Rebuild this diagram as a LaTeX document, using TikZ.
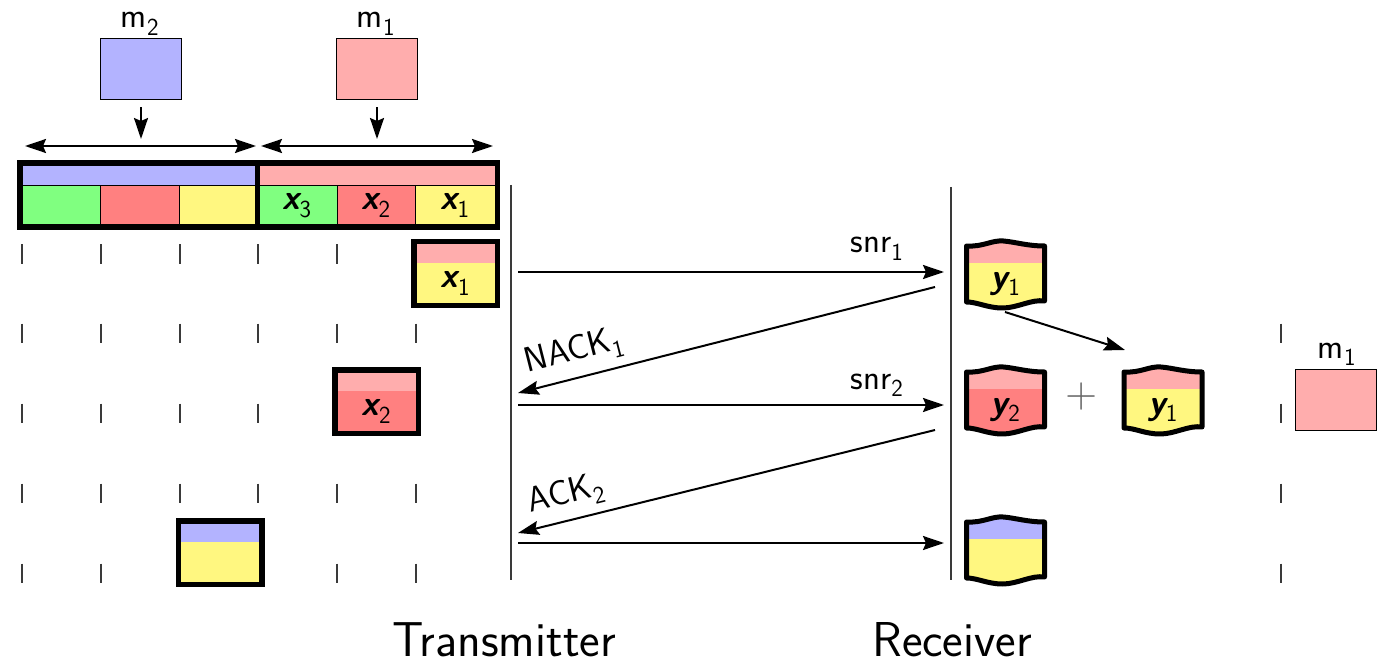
\documentclass[tikz,border=0pt]{standalone}
\usepackage{fontspec}
\usetikzlibrary{arrows.meta}
\definecolor{cblue}{HTML}{B3B3FF}
\definecolor{cpink}{HTML}{FFADAD}
\definecolor{cred}{HTML}{FF8080}
\definecolor{cyel}{HTML}{FFF780}
\definecolor{cgreen}{HTML}{80FF80}
\definecolor{cdark}{HTML}{3A3A3A}
\newcommand\xv[1]{{\bfseries\itshape x}\textsubscript{#1}}
\newcommand\yv[1]{{\bfseries\itshape y}\textsubscript{#1}}
\tikzset{
  lbl/.style={font=\sffamily\fontsize{35}{42}\selectfont, inner sep=0pt},
  big/.style={font=\sffamily\fontsize{49}{58}\selectfont, inner sep=0pt},
  arr/.style={line width=2pt, -{Stealth[length=21pt,width=14pt,inset=3pt]}},
  darr/.style={line width=2pt, {Stealth[length=21pt,width=14pt,inset=3pt]}-{Stealth[length=21pt,width=14pt,inset=3pt]}},
  tick/.style={line width=2pt, cdark},
  life/.style={line width=2pt, cdark},
  msg/.style={draw=black, line width=1.2pt, minimum width=81pt, minimum height=61pt, inner sep=0pt},
  cell/.style={draw=black, line width=1pt, minimum height=39pt, inner sep=0pt, lbl},
  strip/.style={minimum height=20pt, inner sep=0pt},
  wavyp/.style={insert path={(-39,28) .. controls (-22,27) and (-14,34) .. (-2,33) .. controls (10,32) and (22,28) .. (39,28) -- (39,-27) .. controls (26,-25) and (12,-34) .. (-3,-34) .. controls (-18,-34) and (-28,-28) .. (-39,-28) -- cycle}},
  pics/txbox/.style n args={3}{code={
    \fill[#2] (-42,-32) rectangle (42,32);
    \fill[#1] (-42,10.5) rectangle (42,32);
    \draw[line width=5.5pt] (-41.75,-31.75) rectangle (41.75,31.75);
    \node[lbl] (-c) at (0,-10) {#3};
  }},
  pics/rxbox/.style n args={3}{code={
    \begin{scope}
      \clip[wavyp];
      \fill[#2] (-45,-40) rectangle (45,40);
      \fill[#1] (-45,11) rectangle (45,40);
    \end{scope}
    \draw[line width=5pt, line join=round, wavyp];
    \node[lbl] (-c) at (0,-10) {#3};
  }},
}
\begin{document}
\begin{tikzpicture}[x=1pt,y=1pt]
\useasboundingbox (0,0) rectangle (1379,-663);

% input messages
\node[msg, fill=cblue] (m2) at (141,-69) {};
\node[msg, fill=cpink] (m1) at (377,-69) {};
\node[lbl, anchor=base] (m2l) at (140,-28) {m\textsubscript{2}};
\node[lbl, anchor=base] (m1l) at (376,-28) {m\textsubscript{1}};
\coordinate (m2t) at (141,-139);
\coordinate (m1t) at (377,-139);
\draw[arr, shorten <=7pt] (m2) -- (m2t);
\draw[arr, shorten <=7pt] (m1) -- (m1t);

% double arrows
\coordinate (dl1) at (25,-146);
\coordinate (dl2) at (256,-146);
\coordinate (dr1) at (261,-146);
\coordinate (dr2) at (493,-146);
\draw[darr] (dl1) -- (dl2);
\draw[darr] (dr1) -- (dr2);

% codeword frame
\node[strip, fill=cblue, minimum width=235pt] (s2) at (139.75,-176) {};
\node[strip, fill=cpink, minimum width=238pt] (s1) at (376,-176) {};
\node[cell, fill=cgreen, minimum width=77.5pt] (c1) at (61.25,-205.5) {};
\node[cell, fill=cred, minimum width=79pt] (c2) at (139.5,-205.5) {};
\node[cell, fill=cyel, minimum width=78pt] (c3) at (218,-205.5) {};
\node[cell, fill=cgreen, minimum width=80pt] (c4) at (297,-205.5) {\xv{3}};
\node[cell, fill=cred, minimum width=78pt] (c5) at (376,-205.5) {\xv{2}};
\node[cell, fill=cyel, minimum width=80pt] (c6) at (455,-205.5) {\xv{1}};
\draw[line width=5.5pt] (20,-163) rectangle (497.5,-227.5);
\draw[line width=5pt] (257,-163) -- (257,-227.5);

% ticks
\foreach \yy/\xs in {254/{22,101,180,258,337}, 333/{22,101,180,258,337,416}, 413/{22,101,180,258}, 493/{22,101,180,258,337,416}, 573/{22,101,337,416}} {
  \foreach \xx in \xs {\draw[tick] (\xx,-\yy+9.5) -- (\xx,-\yy-9.5);}
}
\foreach \yy in {333,413,493,573} {\draw[tick] (1281,-\yy+9.5) -- (1281,-\yy-9.5);}

% transmitted blocks
\pic (tx1) at (455.5,-273.5) {txbox={cpink}{cyel}{\xv{1}}};
\pic (tx2) at (376.5,-401.5) {txbox={cpink}{cred}{\xv{2}}};
\pic (tx3) at (220,-552.5) {txbox={cblue}{cyel}{}};

% life lines
\coordinate (tl0) at (511,-185);
\coordinate (tl1) at (511,-580);
\coordinate (rl0) at (951,-187);
\coordinate (rl1) at (951,-580);
\draw[life] (tl0) -- (tl1);
\draw[life] (rl0) -- (rl1);

% messages
\coordinate (a1s) at (518,-272);
\coordinate (a1e) at (944,-272);
\draw[arr] (a1s) -- (a1e);
\node[lbl, anchor=base] (snr1) at (877,-253) {snr\textsubscript{1}};

\coordinate (n1s) at (935,-287);
\coordinate (n1e) at (518,-393);
\draw[arr] (n1s) -- node[lbl, sloped, above=9pt, pos=0.85] (nack1) {NACK\textsubscript{1}} (n1e);

\coordinate (a2s) at (518,-405);
\coordinate (a2e) at (944,-405);
\draw[arr] (a2s) -- (a2e);
\node[lbl, anchor=base] (snr2) at (877,-389) {snr\textsubscript{2}};

\coordinate (k2s) at (935,-430);
\coordinate (k2e) at (518,-533);
\draw[arr] (k2s) -- node[lbl, sloped, above=8pt, pos=0.87] (ack2) {ACK\textsubscript{2}} (k2e);

\coordinate (a3s) at (518,-543);
\coordinate (a3e) at (944,-543);
\draw[arr] (a3s) -- (a3e);

% received blocks
\pic (ry1) at (1005.5,-274) {rxbox={cpink}{cyel}{\yv{1}}};
\pic (ry2) at (1005.5,-400) {rxbox={cpink}{cred}{\yv{2}}};
\pic (ry1b) at (1163,-400) {rxbox={cpink}{cyel}{\yv{1}}};
\pic (ry3) at (1005.5,-550) {rxbox={cblue}{cyel}{}};
\node[lbl, text=black!60, font=\sffamily\fontsize{44}{50}\selectfont] (plus) at (1082,-397) {+};
\coordinate (mgs) at (1005,-312);
\coordinate (mge) at (1125,-350);
\draw[arr] (mgs) -- (mge);

% decoded message
\node[msg, fill=cpink] (m1out) at (1336,-400) {};
\node[lbl, anchor=base] (m1outl) at (1337,-358) {m\textsubscript{1}};

% captions
\node[big, anchor=base] (txl) at (504,-656) {Transmitter};
\node[big, anchor=base] (rxl) at (952,-656) {Receiver};
\end{tikzpicture}
\end{document}
